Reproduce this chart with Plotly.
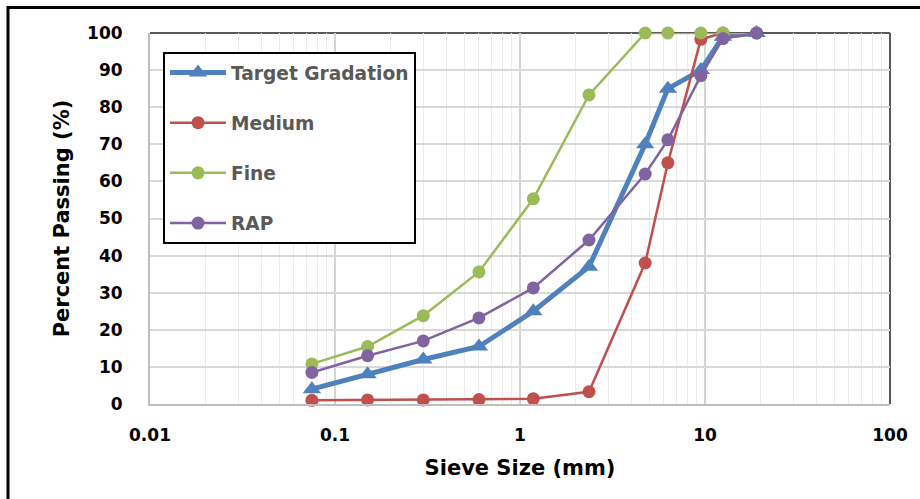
import plotly.graph_objects as go

sieve = [0.075, 0.15, 0.3, 0.6, 1.18, 2.36, 4.75, 6.3, 9.5, 12.5, 19]
target = [4, 8, 12, 15.5, 25, 37, 70, 85, 90, 99, 100]
medium = [1, 1.1, 1.1, 1.2, 1.4, 3.3, 38, 65, 98.3, 100, 100]
fine = [10.8, 15.5, 23.8, 35.6, 55.3, 83.3, 100, 100, 100, 100, 100]
rap = [8.5, 13, 17, 23.2, 31.3, 44.2, 62, 71.2, 88.5, 98.5, 100]

names = ["Target Gradation", "Medium", "Fine", "RAP"]
colors = ["#4F81BD", "#C0504D", "#9BBB59", "#8064A2"]
series = [target, medium, fine, rap]

FONT = "DejaVu Sans"
fig = go.Figure()
for i, (n, c, s) in enumerate(zip(names, colors, series)):
    is_t = i == 0
    fig.add_trace(go.Scatter(
        x=sieve, y=s, name=n, mode="lines+markers",
        line=dict(color=c, width=5 if is_t else 2.5),
        marker=dict(symbol="triangle-up" if is_t else "circle",
                    size=16 if is_t else 13, color=c),
        legendgroup=n, cliponaxis=False,
    ))

fig.update_layout(
    width=920, height=499,
    margin=dict(l=150, r=30, t=33, b=95),
    paper_bgcolor="white", plot_bgcolor="white",
    font=dict(family=FONT, color="black"),
    showlegend=True,
    legend=dict(
        x=0.0176, y=0.949, xanchor="left", yanchor="top",
        bgcolor="white", bordercolor="black", borderwidth=2,
        font=dict(family=FONT, size=18.6, color="#595959", weight="bold"),
        tracegroupgap=23, itemwidth=56,
    ),
    xaxis=dict(
        type="log", range=[-2, 2], dtick=1,
        tickvals=[0.01, 0.1, 1, 10, 100], ticktext=["0.01", "0.1", "1", "10", "100"],
        showgrid=True, gridcolor="#d4d4d4", gridwidth=1.5,
        minor=dict(showgrid=True, gridcolor="#ececec", gridwidth=1, dtick="D1"),
        showline=True, linecolor="#bfbfbf", linewidth=2,
        ticks="outside", ticklen=15, tickcolor="rgba(0,0,0,0)",
        tickfont=dict(family=FONT, size=17, color="black", weight="bold"),
        title=dict(text="Sieve Size (mm)", standoff=16,
                   font=dict(family=FONT, size=21, color="black", weight="bold")),
        zeroline=False,
    ),
    yaxis=dict(
        range=[0, 100], dtick=10,
        showgrid=True, gridcolor="#d9d9d9", gridwidth=1.5,
        showline=True, linecolor="#bfbfbf", linewidth=2,
        ticks="outside", ticklen=22, tickcolor="rgba(0,0,0,0)",
        tickfont=dict(family=FONT, size=17, color="black", weight="bold"),
        title=dict(text="Percent Passing (%)", standoff=12,
                   font=dict(family=FONT, size=21, color="black", weight="bold")),
        zeroline=False,
    ),
    shapes=[
        dict(type="line", xref="paper", yref="paper", x0=0, x1=1, y0=1, y1=1,
             line=dict(color="#595959", width=2), layer="below"),
        dict(type="line", xref="paper", yref="paper", x0=1, x1=1, y0=0, y1=1,
             line=dict(color="#595959", width=2), layer="below"),
        dict(type="rect", xref="paper", yref="paper",
             x0=(8 - 150) / 740, x1=(960 - 150) / 740,
             y0=(404 - 7.5) / 371, y1=(404 - 540) / 371,
             line=dict(color="black", width=3), layer="above"),
    ],
)
fig.write_html("out.html")
